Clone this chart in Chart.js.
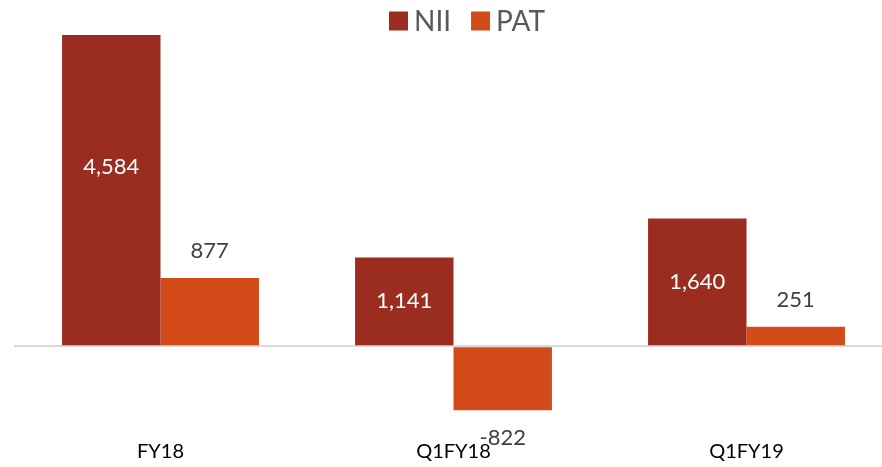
<!DOCTYPE html>
<html>
<head>
<meta charset="utf-8">
<script src="https://cdn.jsdelivr.net/npm/chart.js@4/dist/chart.umd.min.js"></script>
<style>
  html, body { margin: 0; padding: 0; background: #fff; overflow: hidden; }
  canvas { display: block; }
</style>
</head>
<body>
<canvas id="chart" width="893" height="467"></canvas>
<script>
// Chart data
const categories = ['FY18', 'Q1FY18', 'Q1FY19'];
const niiValues = [4584, 1141, 1640];
const patValues = [877, -822, 251];

const FONT = 'Lato, "Open Sans", sans-serif';

// Value labels: NII centered inside the bar, PAT just outside its end
const valueLabels = {
    id: 'valueLabels',
    afterDatasetsDraw(chart) {
        const ctx = chart.ctx;
        ctx.save();
        ctx.font = '22px ' + FONT;
        ctx.textAlign = 'center';
        ctx.textBaseline = 'middle';
        chart.data.datasets.forEach((ds, i) => {
            const meta = chart.getDatasetMeta(i);
            meta.data.forEach((bar, j) => {
                const v = ds.data[j];
                const text = v.toLocaleString('en-US');
                if (i === 0) {
                    ctx.fillStyle = '#ffffff';
                    ctx.fillText(text, bar.x, (bar.y + bar.base) / 2);
                } else {
                    ctx.fillStyle = '#404040';
                    const y = v >= 0 ? bar.y - 27 : bar.y + 28;
                    ctx.fillText(text, bar.x, y);
                }
            });
        });
        ctx.restore();
    }
};

// Simple legend drawn at the top (tighter box/text gap than the built-in one)
const topLegend = {
    id: 'topLegend',
    afterDraw(chart) {
        const ctx = chart.ctx;
        ctx.save();
        ctx.font = '28px ' + FONT;
        ctx.textBaseline = 'middle';
        const box = 19, gap = 6, itemGap = 20;
        const items = chart.data.datasets.map(ds => ({
            text: ds.label, color: ds.backgroundColor, w: ctx.measureText(ds.label).width
        }));
        let total = 0;
        items.forEach((it, k) => { total += box + gap + it.w + (k ? itemGap : 0); });
        let x = 467 - total / 2;
        const cy = 21;
        items.forEach(it => {
            ctx.fillStyle = it.color;
            ctx.fillRect(x, cy - box / 2, box, box);
            x += box + gap;
            ctx.fillStyle = '#595959';
            ctx.fillText(it.text, x, cy + 1);
            x += it.w + itemGap;
        });
        ctx.restore();
    }
};

const ctx = document.getElementById('chart').getContext('2d');
new Chart(ctx, {
    type: 'bar',
    data: {
        labels: categories,
        datasets: [
            { label: 'NII', data: niiValues, backgroundColor: '#9a2d20' },
            { label: 'PAT', data: patValues, backgroundColor: '#d34b18' }
        ]
    },
    options: {
        responsive: false,
        animation: false,
        categoryPercentage: 0.672,
        barPercentage: 1,
        layout: { padding: { left: 14, right: 0, top: 35, bottom: 0 } },
        plugins: {
            legend: { display: false },
            tooltip: { enabled: false }
        },
        scales: {
            x: {
                grid: { display: false },
                border: { display: false },
                afterFit: (s) => { s.height = 43; },
                ticks: {
                    color: '#000000',
                    padding: 8,
                    font: { family: FONT, size: 20 }
                }
            },
            y: {
                min: -1000,
                max: 4000,
                ticks: { display: false, stepSize: 1000 },
                border: { display: false },
                grid: {
                    color: (c) => c.tick && c.tick.value === 0 ? '#d9d9d9' : 'transparent',
                    lineWidth: 2,
                    drawTicks: false
                }
            }
        }
    },
    plugins: [valueLabels, topLegend]
});
</script>
</body>
</html>
